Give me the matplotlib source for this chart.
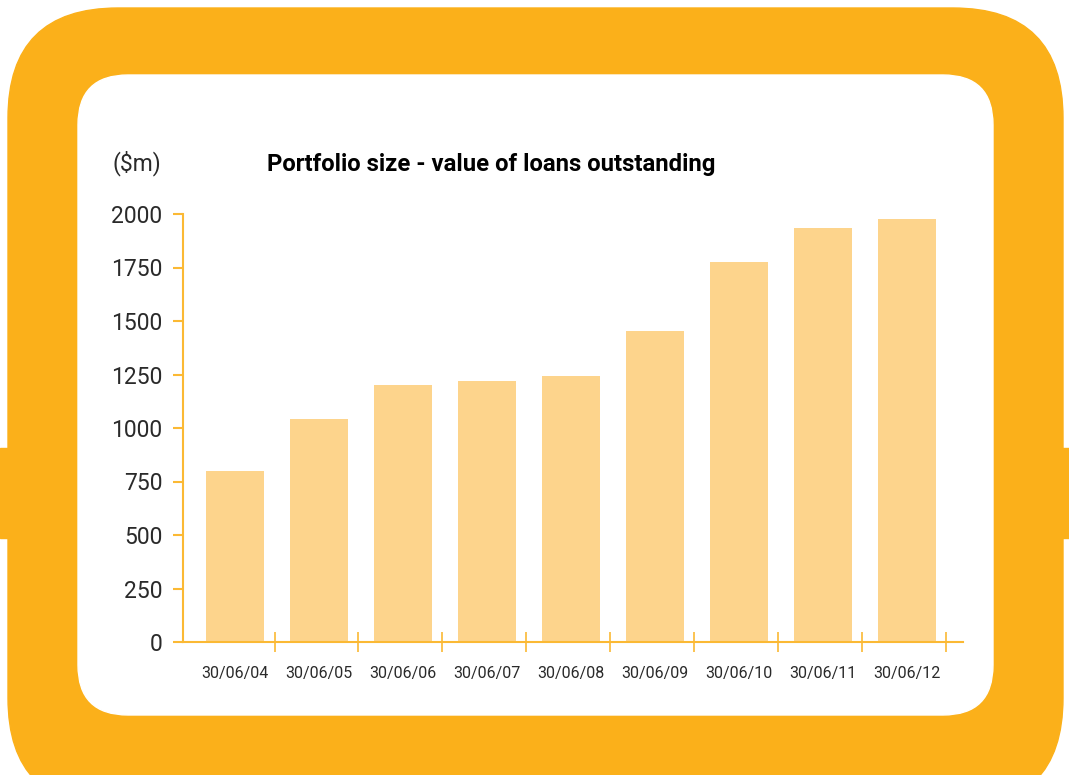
import numpy as np
import matplotlib as mpl
mpl.use("Agg")
import matplotlib.pyplot as plt
from matplotlib.patches import FancyBboxPatch, Rectangle

dates = ["30/06/04", "30/06/05", "30/06/06", "30/06/07", "30/06/08",
         "30/06/09", "30/06/10", "30/06/11", "30/06/12"]
loans = [800, 1040, 1200, 1220, 1245, 1455, 1775, 1935, 1975]
y_ticks = [0, 250, 500, 750, 1000, 1250, 1500, 1750, 2000]

ORANGE = "#FBB01A"
BAR = "#FDD48C"
AXIS = "#FBB934"
TEXT = "#2a2a2a"
W, H = 1069, 775

plt.rcParams["font.family"] = ["Roboto", "DejaVu Sans"]

fig = plt.figure(figsize=(W / 100, H / 100), dpi=100)

# frame drawn in pixel coordinates
bg = fig.add_axes([0, 0, 1, 1])
bg.set_xlim(0, W)
bg.set_ylim(H, 0)
bg.axis("off")
bg.add_patch(Rectangle((0, 448), 12, 90, color=ORANGE))
bg.add_patch(Rectangle((W - 12, 448), 12, 90, color=ORANGE))
bg.add_patch(FancyBboxPatch((8 + 110, 8 + 110), 1055 - 220, 800 - 220,
                            boxstyle="round,pad=110", color=ORANGE))
bg.add_patch(FancyBboxPatch((78 + 50, 75 + 50), 915 - 100, 640 - 100,
                            boxstyle="round,pad=50", color="white"))

ax = fig.add_axes([183 / W, (H - 642) / H, (963 - 183) / W, (642 - 214) / H])
ax.patch.set_alpha(0)
x = np.arange(len(dates))
ax.bar(x, loans, width=0.69, color=BAR, zorder=2)
ax.set_xlim(-0.62, 8.67)
ax.set_ylim(0, 2000)

for s in ["top", "right"]:
    ax.spines[s].set_visible(False)
for s in ["left", "bottom"]:
    ax.spines[s].set_color(AXIS)
    ax.spines[s].set_linewidth(1.5)
    ax.spines[s].set_zorder(3)

ax.set_yticks(y_ticks)
ax.set_yticklabels([str(v) for v in y_ticks], fontsize=16.5, fontweight="normal", color=TEXT)
ax.tick_params(axis="y", length=7, width=1.5, color=AXIS, pad=8)

ax.set_xticks(np.arange(len(dates)) + 0.47, minor=False)
ax.set_xticklabels([])
ax.tick_params(axis="x", which="major", direction="inout", length=14, width=1.2, color=AXIS)
ax.set_xticks(x, minor=True)
ax.set_xticklabels(dates, minor=True, fontsize=11.5, color=TEXT)
ax.tick_params(axis="x", which="minor", length=0, pad=17)

fig.text(113 / W, 1 - 163 / H, "($m)", fontsize=16.5, fontweight="normal",
         color=TEXT, va="center", ha="left")
fig.text(267 / W, 1 - 164 / H, "Portfolio size - value of loans outstanding",
         fontsize=17.2, fontweight="bold", color="black", va="center", ha="left")

fig.savefig("out.png", dpi=100, facecolor="white")
